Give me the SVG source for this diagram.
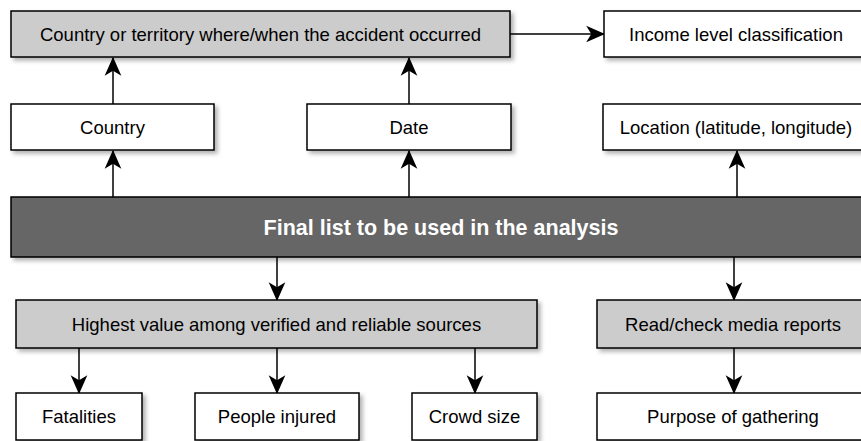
<svg xmlns="http://www.w3.org/2000/svg" width="861" height="441" viewBox="0 0 861 441">
<defs>
<filter id="sh" x="-10%" y="-30%" width="120%" height="170%">
<feDropShadow dx="3" dy="3" stdDeviation="2" flood-color="#000" flood-opacity="0.3"/>
</filter>
<marker id="ar" markerUnits="userSpaceOnUse" markerWidth="20" markerHeight="20" viewBox="-1 -8 18 16" refX="16" refY="0" orient="auto">
<path d="M0,-7.5 L17,0 L0,7.5 L4.5,0 Z" fill="#000"/>
</marker>
</defs>
<style>
.n rect{stroke:#000;stroke-width:1.5;filter:url(#sh)}
.w{fill:#fff}.g{fill:#ccc}.d{fill:#666}
text{font-family:"Liberation Sans",Arial,sans-serif;font-size:18.5px;fill:#000;text-anchor:middle}
.b{font-weight:bold;fill:#fff;font-size:21.5px}
.c line{stroke:#000;stroke-width:1.5;marker-end:url(#ar)}
</style>
<rect width="861" height="441" fill="#fff"/>
<g class="c" id="connectors">
<line x1="510" y1="34" x2="604" y2="34"/>
<line x1="113" y1="104" x2="113" y2="58"/>
<line x1="409" y1="104" x2="409" y2="58"/>
<line x1="113" y1="197" x2="113" y2="151"/>
<line x1="409" y1="197" x2="409" y2="151"/>
<line x1="737" y1="197" x2="737" y2="151"/>
<line x1="277" y1="257" x2="277" y2="300"/>
<line x1="734" y1="257" x2="734" y2="300"/>
<line x1="79" y1="348" x2="79" y2="393"/>
<line x1="277" y1="348" x2="277" y2="393"/>
<line x1="475" y1="348" x2="475" y2="393"/>
<line x1="734" y1="348" x2="734" y2="393"/>
</g>
<g class="n" id="n-country-territory"><rect class="g" x="11" y="11" width="499" height="46"/><text x="260.5" y="40.5">Country or territory where/when the accident occurred</text></g>
<g class="n" id="n-income"><rect class="w" x="604" y="11" width="270" height="46"/><text x="736" y="40.5">Income level classification</text></g>
<g class="n" id="n-country"><rect class="w" x="11" y="104" width="203" height="46"/><text x="112.5" y="133.5">Country</text></g>
<g class="n" id="n-date"><rect class="w" x="307" y="104" width="204" height="46"/><text x="409" y="133.5">Date</text></g>
<g class="n" id="n-location"><rect class="w" x="603" y="104" width="270" height="46"/><text x="736" y="133.5">Location (latitude, longitude)</text></g>
<g class="n" id="n-final"><rect class="d" x="11" y="197" width="862" height="60"/><text class="b" x="441" y="235">Final list to be used in the analysis</text></g>
<g class="n" id="n-highest"><rect class="g" x="16" y="300" width="521" height="48"/><text x="276.5" y="330.5">Highest value among verified and reliable sources</text></g>
<g class="n" id="n-read"><rect class="g" x="597" y="300" width="276" height="48"/><text x="733" y="330.5">Read/check media reports</text></g>
<g class="n" id="n-fatalities"><rect class="w" x="16" y="393" width="126" height="47"/><text x="79" y="423">Fatalities</text></g>
<g class="n" id="n-injured"><rect class="w" x="195" y="393" width="164" height="47"/><text x="277" y="423">People injured</text></g>
<g class="n" id="n-crowd"><rect class="w" x="412" y="393" width="125" height="47"/><text x="474.5" y="423">Crowd size</text></g>
<g class="n" id="n-purpose"><rect class="w" x="597" y="393" width="276" height="47"/><text x="733" y="423">Purpose of gathering</text></g>
</svg>
